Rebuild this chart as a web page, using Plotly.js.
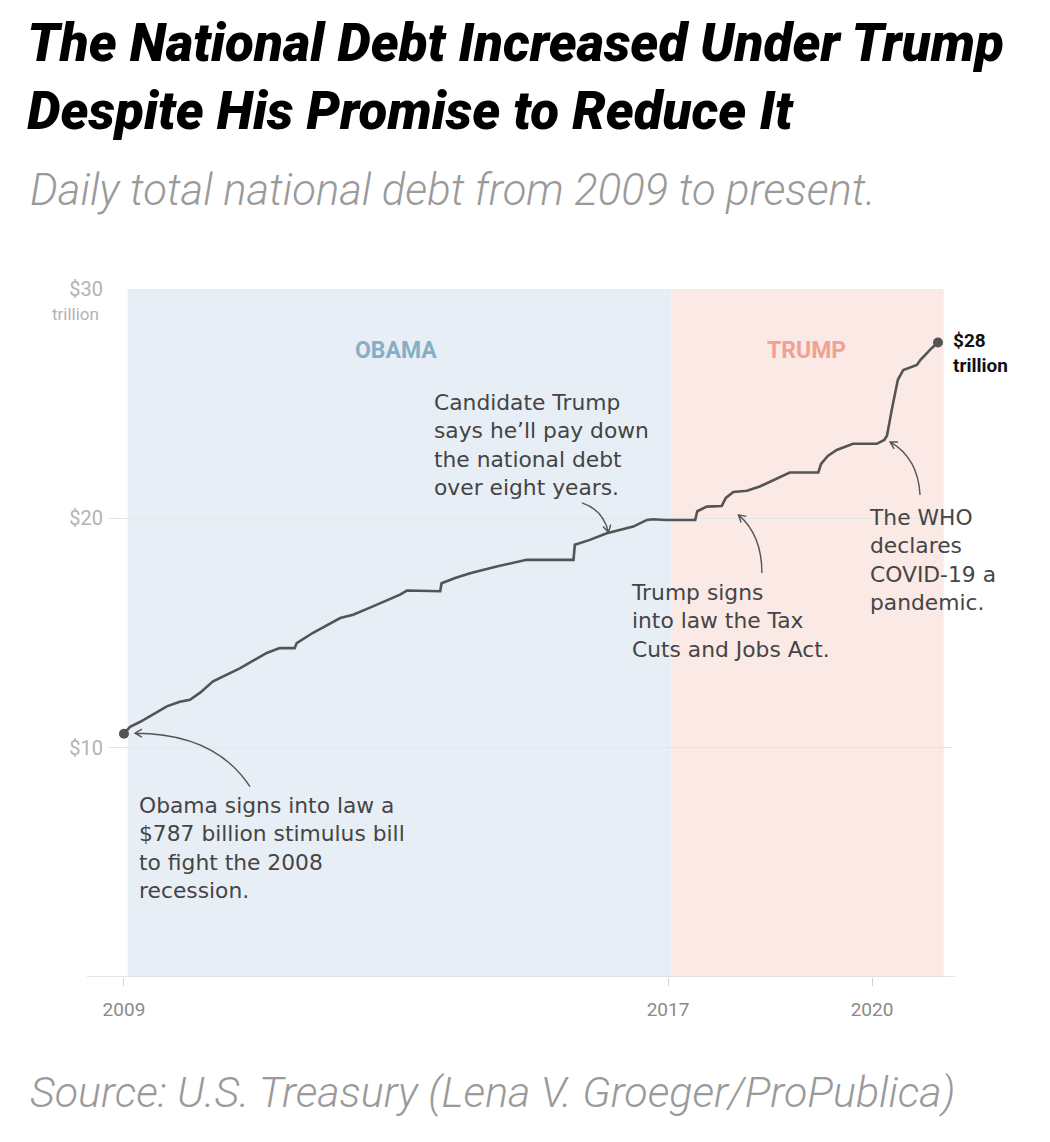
<!DOCTYPE html>
<html>
<head>
<meta charset="utf-8">
<script src="https://cdn.plot.ly/plotly-3.0.1.min.js"></script>
<style>html,body{margin:0;padding:0;background:#fff;}#chart{width:1050px;height:1142px;}</style>
</head>
<body>
<div id="chart"></div>
<script>
// Daily total national debt (trillions of USD)
const years = [2009.00, 2009.09, 2009.24, 2009.46, 2009.63, 2009.82, 2009.97, 2010.12, 2010.31, 2010.71,
  2011.10, 2011.29, 2011.51, 2011.54, 2011.78, 2012.18, 2012.37, 2012.66, 2013.06, 2013.16,
  2013.65, 2013.67, 2013.87, 2014.09, 2014.48, 2014.92, 2015.61, 2015.63, 2015.85, 2016.10,
  2016.49, 2016.69, 2016.78, 2016.96, 2017.40, 2017.43, 2017.57, 2017.79, 2017.85, 2017.96,
  2018.16, 2018.35, 2018.57, 2018.79, 2019.21, 2019.25, 2019.35, 2019.48, 2019.72, 2020.07,
  2020.18, 2020.22, 2020.29, 2020.38, 2020.46, 2020.54, 2020.66, 2020.71, 2020.80, 2020.88, 2020.97];
const debt = [10.61, 10.91, 11.13, 11.52, 11.80, 12.00, 12.09, 12.40, 12.89, 13.47,
  14.13, 14.34, 14.34, 14.56, 15.01, 15.65, 15.80, 16.16, 16.67, 16.85,
  16.82, 17.17, 17.40, 17.61, 17.90, 18.19, 18.19, 18.85, 19.06, 19.35,
  19.64, 19.93, 19.96, 19.93, 19.93, 20.31, 20.51, 20.54, 20.89, 21.15,
  21.20, 21.39, 21.68, 22.00, 22.00, 22.37, 22.72, 22.98, 23.25, 23.25,
  23.42, 23.60, 24.73, 26.04, 26.47, 26.56, 26.69, 26.90, 27.20, 27.43, 27.67];

// Presidential terms (shaded periods)
const terms = ['OBAMA', 'TRUMP'];
const termStart = [2009.055, 2017.055];
const termEnd = [2017.055, 2021.055];
const termFill = ['#e8eef5', '#fbe9e6'];
const termLabelColor = ['#86afc6', '#f0a191'];

// Axis ticks
const xTickVals = [2009, 2017, 2020];
const xTickText = ['2009', '2017', '2020'];
const yTickVals = [10, 20, 30];
const yTickText = ['$10', '$20', '$30'];

const annFont = {family: 'DejaVu Sans, sans-serif', size: 21.8, color: '#454545'};

// curved arrow drawn in pixel offsets (screen y-down) relative to tip anchored in data coords
function curvedArrow(tx, ty, start, ctrl) {
  const dx = -ctrl[0], dy = -ctrl[1];
  const len = Math.hypot(dx, dy);
  const bx = -dx / len, by = -dy / len; // from tip back toward control
  const a = Math.PI / 6, L = 8;
  const r1 = [ (bx * Math.cos(a) - by * Math.sin(a)) * L, (bx * Math.sin(a) + by * Math.cos(a)) * L ];
  const r2 = [ (bx * Math.cos(-a) - by * Math.sin(-a)) * L, (bx * Math.sin(-a) + by * Math.cos(-a)) * L ];
  const f = p => p[0].toFixed(2) + ',' + (-p[1]).toFixed(2);
  const path = 'M' + f(start) + ' Q' + f(ctrl) + ' 0,0 M' + f(r1) + ' L0,0 L' + f(r2);
  return {type: 'path', xref: 'x', yref: 'y', xsizemode: 'pixel', ysizemode: 'pixel',
    xanchor: tx, yanchor: ty, path: path, line: {color: '#555', width: 1.4}, layer: 'above'};
}

const shapes = [];
terms.forEach((t, i) => {
  shapes.push({type: 'rect', xref: 'x', yref: 'y', x0: termStart[i], x1: termEnd[i], y0: 0, y1: 30,
    fillcolor: termFill[i], line: {width: 0}, layer: 'below'});
});
shapes.push({type: 'line', xref: 'paper', yref: 'y', x0: -0.025, x1: 1.004, y0: 0, y1: 0,
  line: {color: '#d8dbe0', width: 1.5}, layer: 'above'});
shapes.push(curvedArrow(2009.162, 10.63, [115, 53.5], [80, 0]));
shapes.push(curvedArrow(2016.125, 19.39, [-26.5, -29.5], [-5.5, -22.5]));
shapes.push(curvedArrow(2018.035, 20.15, [23.5, 58], [23.5, 20]));
shapes.push(curvedArrow(2020.265, 23.33, [30, 53], [28, 16]));

const subFont = {family: 'Roboto, sans-serif', size: 43.6, weight: 300, style: 'italic', color: '#9a9a9a'};
const annotations = [
  {xref: 'paper', yref: 'paper', x: -0.0948, y: 1.1438, xanchor: 'left', yanchor: 'middle', showarrow: false,
   text: 'Daily total national debt from 2009 to present.', font: subFont},
  {xref: 'paper', yref: 'paper', x: -0.0948, y: -0.1678, xanchor: 'left', yanchor: 'middle', showarrow: false,
   text: 'Source: U.S. Treasury (Lena V. Groeger/ProPublica)',
   font: {family: 'Roboto, sans-serif', size: 43, weight: 300, style: 'italic', color: '#9a9a9a'}},
  {xref: 'paper', yref: 'y', x: -0.008, y: 28.9, xanchor: 'right', yanchor: 'middle', showarrow: false,
   text: 'trillion', font: {family: 'Roboto, sans-serif', size: 17, color: '#b3b3b3'}},
  {xref: 'paper', yref: 'paper', x: 0.999, y: 0.907, xanchor: 'left', yanchor: 'middle', showarrow: false, align: 'left',
   text: '<b>$28</b><br><b>trillion</b>',
   font: {family: 'Roboto, sans-serif', size: 19, color: '#111'}},
  {x: 2009.195, y: 8.13, xanchor: 'left', yanchor: 'top', showarrow: false, align: 'left',
   text: 'Obama signs into law a<br>$787 billion stimulus bill<br>to fight the 2008<br>recession.', font: annFont},
  {x: 2013.525, y: 25.68, xanchor: 'left', yanchor: 'top', showarrow: false, align: 'left',
   text: 'Candidate Trump<br>says he’ll pay down<br>the national debt<br>over eight years.', font: annFont},
  {x: 2016.42, y: 17.38, xanchor: 'left', yanchor: 'top', showarrow: false, align: 'left',
   text: 'Trump signs<br>into law the Tax<br>Cuts and Jobs Act.', font: annFont},
  {x: 2019.92, y: 20.68, xanchor: 'left', yanchor: 'top', showarrow: false, align: 'left',
   text: 'The WHO<br>declares<br>COVID-19 a<br>pandemic.', font: annFont}
];
const labelX = [2013.0, 2019.03];
terms.forEach((t, i) => {
  annotations.push({x: labelX[i], y: 27.3, showarrow: false, text: '<b>' + t + '</b>',
    font: {family: 'Roboto, sans-serif', size: 23, color: termLabelColor[i]}});
});

const traces = [
  {x: years, y: debt, type: 'scatter', mode: 'lines', line: {color: '#545454', width: 2.6}, hoverinfo: 'skip'},
  {x: [years[0], years[years.length - 1]], y: [debt[0], debt[debt.length - 1]], type: 'scatter', mode: 'markers',
   marker: {color: '#545454', size: 10}, hoverinfo: 'skip'}
];

const layout = {
  width: 1050, height: 1142,
  margin: {l: 108, r: 98, t: 289, b: 164.5},
  paper_bgcolor: '#ffffff', plot_bgcolor: '#ffffff',
  showlegend: false,
  title: {
    text: 'The National Debt Increased Under Trump<br>Despite His Promise to Reduce It',
    xref: 'container', yref: 'container', x: 0.026, xanchor: 'left', y: 0.947, yanchor: 'top',
    font: {family: 'Roboto, sans-serif', size: 53, weight: 900, style: 'italic', color: '#000'}
  },
  xaxis: {
    range: [2008.765, 2021.176], tickvals: xTickVals, ticktext: xTickText,
    showgrid: false, zeroline: false, showline: false,
    ticks: 'outside', ticklen: 8, tickcolor: '#d0d3d8', tickwidth: 1, ticklabelstandoff: 7,
    tickfont: {family: 'Roboto, sans-serif', size: 19, color: '#8a8a8a'}
  },
  yaxis: {
    range: [0, 30], tickvals: yTickVals, ticktext: yTickText,
    showgrid: true, gridcolor: '#e2e5ea', gridwidth: 1.2, zeroline: false, showline: false,
    ticks: '', ticklabelstandoff: 4,
    tickfont: {family: 'Roboto, sans-serif', size: 20, color: '#b3b3b3'}
  },
  shapes: shapes,
  annotations: annotations
};

Plotly.newPlot('chart', traces, layout, {displayModeBar: false, staticPlot: true});
</script>
</body>
</html>
